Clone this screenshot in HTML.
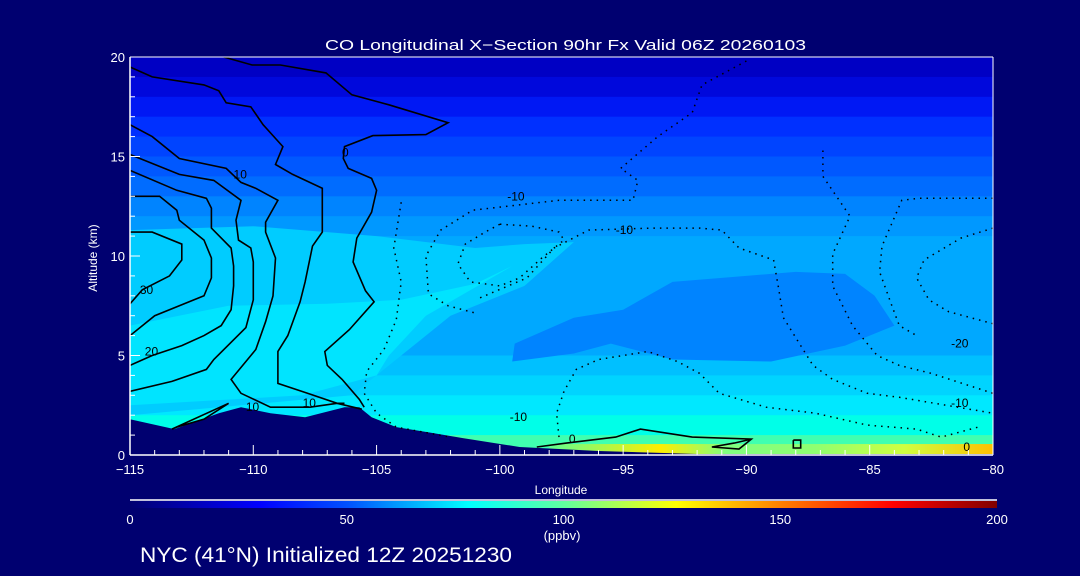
<!DOCTYPE html>
<html><head><meta charset="utf-8">
<style>
html,body{margin:0;padding:0;background:#000070;}
svg{display:block;font-family:"Liberation Sans",sans-serif;}
</style></head>
<body>
<svg id="chart" width="1080" height="576" viewBox="0 0 1080 576" xmlns="http://www.w3.org/2000/svg">
<defs>
<linearGradient id="cbar" x1="0" x2="1" y1="0" y2="0">
<stop offset="0" stop-color="#000070"/><stop offset="0.15" stop-color="#0000ff"/><stop offset="0.25" stop-color="#0050ff"/>
<stop offset="0.39" stop-color="#00ffff"/><stop offset="0.5" stop-color="#60ffa0"/><stop offset="0.63" stop-color="#ffff00"/>
<stop offset="0.75" stop-color="#ff8000"/><stop offset="0.88" stop-color="#ff0000"/><stop offset="1" stop-color="#800000"/>
</linearGradient>
<linearGradient id="ground" x1="0" x2="1" y1="0" y2="0">
<stop offset="0" stop-color="#60ff90"/><stop offset="0.25" stop-color="#ffee00"/><stop offset="0.4" stop-color="#80ff80"/>
<stop offset="0.6" stop-color="#90ff70"/><stop offset="0.8" stop-color="#d0ff40"/><stop offset="1" stop-color="#ffc000"/>
</linearGradient>
<clipPath id="plotclip"><rect x="130" y="57" width="863" height="398"/></clipPath>
</defs>
<rect x="0" y="0" width="1080" height="576" fill="#000070"/>
<g id="field" clip-path="url(#plotclip)"></g>
<g id="contours" clip-path="url(#plotclip)"></g>
<g id="axes"></g>
<text x="325" y="50" fill="#fff" font-size="15" textLength="481" lengthAdjust="spacingAndGlyphs">CO Longitudinal X−Section 90hr  Fx Valid 06Z 20260103</text>
<text x="561" y="494" fill="#fff" font-size="12" text-anchor="middle">Longitude</text>
<text x="97" y="258" fill="#fff" font-size="12" text-anchor="middle" transform="rotate(-90 97 258)">Altitude (km)</text>
<line x1="130" y1="500" x2="997" y2="500" stroke="#fff" stroke-width="1.5"/>
<rect x="130" y="501" width="867" height="7" fill="url(#cbar)"/>
<g id="cbticks"></g>
<text x="562" y="540" fill="#fff" font-size="13" text-anchor="middle">(ppbv)</text>
<text x="140" y="562" fill="#fff" font-size="21" textLength="372" lengthAdjust="spacingAndGlyphs">NYC (41°N) Initialized 12Z 20251230</text>
</svg>
<script>
const NS="http://www.w3.org/2000/svg";
const xTicks=[-115,-110,-105,-100,-95,-90,-85,-80];
const yTicks=[0,5,10,15,20];
const cbTicks=[0,50,100,150,200];
const bandEdges=[20,19,18,17,16,15,14,13,12,11,9,5,4,3,2,1];
const bandColors=["#0000c4","#0008dc","#0018f4","#0030ff","#0044ff","#0058ff","#006cff","#0084ff","#0098ff","#00a8ff","#00a8ff","#00c0ff","#00d4ff","#00e8ff","#00ffe8","#40ffb0"];
const leftCyan=[[-115,11.3],[-110,11.5],[-105,11],[-101,10.4],[-99,10.6],[-97,10.7],[-99,8.5],[-102,7],[-103,6],[-104,5],[-106,3],[-115,2]];
const leftLight=[[-115,6.5],[-111,7.5],[-107,7.6],[-104,7.8],[-101,8.6],[-99.5,9.5],[-103,7],[-104.5,5],[-105,4],[-108,3],[-115,2.5]];
const bluePatch=[[-99.5,4.7],[-99.4,5.6],[-97,6.9],[-95,7.3],[-93,8.7],[-91,8.9],[-88,9.2],[-86,9.1],[-84.8,8],[-84,6.5],[-86,5.5],[-89,4.7],[-93,4.8],[-95.5,5.6],[-97,5.1]];
const terrain=[[-115,1.8],[-113.2,1.3],[-111.4,2.1],[-110.5,2.4],[-109.3,2.1],[-107.9,1.9],[-106.3,2.4],[-105.7,2.4],[-105.2,1.9],[-104.2,1.4],[-102.7,1.1],[-101.5,0.85],[-99.2,0.4],[-96,0.2],[-92,0.05],[-80,0.05],[-80,-1],[-115,-1]];
const solidContours=[
[[-111.2,20],[-110.05,19.6],[-108.9,19.6],[-107.05,19.2],[-106,18.1],[-104.5,17.6],[-102.1,16.7],[-103,16.1],[-105.15,16.05],[-106.3,15.5],[-106.35,14.9],[-106.15,14.4],[-105.2,13.9],[-105,13.3],[-105.2,12.2],[-105.8,10.9],[-105.95,9.7],[-105.45,8.25],[-105.1,7.7],[-106.1,6.3],[-107.1,5.2],[-107,4.5],[-106.4,3.8],[-105.7,2.8],[-105.5,2.4]],
[[-115,19.5],[-114.1,19.0],[-112,18.6],[-111.4,18.3],[-111.1,17.7],[-110.1,17.5],[-109.6,16.6],[-108.8,15.5],[-109.1,14.6],[-108.4,14.1],[-107.2,13.4],[-107.2,12.4],[-107.2,11.2],[-107.6,10.5],[-107.9,8.7],[-108.1,7.7],[-108.6,6.0],[-109,5.2],[-109,3.6],[-107.8,3.1],[-106.6,2.6],[-105.6,2.3]],
[[-115,16.6],[-114.1,16.0],[-113,14.9],[-111.1,14.4],[-110.5,13.7],[-109.9,13.4],[-109,12.8],[-109.5,11.7],[-109.5,11.2],[-109.1,9.9],[-109.2,8.0],[-109.5,6.7],[-109.9,5.3],[-110.9,3.8],[-110.5,3.1],[-109.3,2.4],[-107.7,2.4],[-106.6,2.6],[-106.3,2.6]],
[[-115,15.1],[-113,14.1],[-111.6,13.8],[-110.5,12.8],[-110.7,11.8],[-110.6,10.8],[-110.1,10.4],[-110,9.7],[-110,7.8],[-110.3,6.4],[-111.6,4.8],[-111.9,4.3],[-113.3,3.7],[-115,3.2]],
[[-115,14.3],[-113.1,13.3],[-111.9,12.9],[-111.7,12.4],[-111.7,11.4],[-110.9,10.4],[-110.8,9.5],[-110.8,8.5],[-110.9,7.3],[-111.3,6.5],[-112,6.0],[-112.9,5.5],[-114.1,5.0],[-115,4.5]],
[[-115,13.0],[-113.8,13.0],[-113.1,12.3],[-113.0,11.8],[-112,10.8],[-111.7,9.9],[-111.7,8.9],[-112,8.0],[-114,7.0],[-115,6.0]],
[[-115,11.2],[-114.1,11.2],[-112.9,10.6],[-112.9,9.8],[-113.4,9.0],[-114.5,8.3],[-115,7.6]],
[[-113.3,1.3],[-111,2.6],[-112,1.8],[-113.1,1.4],[-113.3,1.3]],
[[-98.5,0.4],[-97.3,0.6],[-95.3,0.9],[-94.3,1.3],[-92.2,0.9],[-89.8,0.8],[-90.3,0.3],[-91.4,0.4],[-90.5,0.6],[-89.8,0.8]],
[[-88.1,0.75],[-87.8,0.75],[-87.8,0.35],[-88.1,0.35],[-88.1,0.75]]
];
const dottedContours=[
[[-90,19.8],[-91.8,18.6],[-92.2,17.2],[-93.6,16.0],[-95.1,14.4],[-94.4,13.8],[-94.6,12.8],[-97.6,12.8],[-101.1,12.3],[-102.4,11.3],[-103,10.0],[-102.9,8.1],[-102.1,7.5],[-100.9,7.1]],
[[-100,11.6],[-98.7,11.5],[-97.6,11.2],[-97.4,10.8],[-98.3,9.9],[-99.2,8.9],[-100,8.5],[-101.2,8.7],[-101.7,9.6],[-101.4,10.6],[-100.6,11.2],[-100,11.6]],
[[-104,12.7],[-104.3,10.4],[-104,8.7],[-104.2,6.8],[-104.7,5.3],[-105.4,4.2],[-105.5,3.1],[-105,2.1],[-104.2,1.4],[-102,0.9]],
[[-100.8,7.9],[-98.9,8.9],[-97.8,10.4],[-96.4,11.3],[-93.8,11.4],[-91.9,11.4],[-91,11.3],[-90.3,10.4],[-88.9,9.8],[-88.7,8.4],[-88.5,6.9],[-87.9,5.7],[-87.3,4.5],[-86.5,3.8],[-85.1,3.1],[-83.8,2.9],[-80,2.1]],
[[-86.9,15.3],[-86.9,14.0],[-85.8,12.0],[-86.5,10.1],[-86.5,8.5],[-85.7,6.5],[-84.7,5.0],[-83.8,4.5],[-82.5,4.1],[-80,3.1]],
[[-80,12.9],[-83,12.9],[-83.7,12.8],[-84.5,10.5],[-84.6,9.2],[-84.1,7.5],[-83.8,6.5],[-83.1,6.0]],
[[-80,11.4],[-81.3,10.9],[-82.8,9.8],[-83.1,8.9],[-82.6,7.8],[-81.8,7.2],[-80,6.6]],
[[-97.6,0.9],[-97.7,2.1],[-97.4,3.2],[-96.9,4.3],[-96,4.8],[-94,5.2],[-92.8,4.7],[-91.9,4.1],[-91.1,3.1],[-89.2,2.4],[-87.2,2.1],[-85.1,1.5],[-83.1,1.3],[-82.1,0.9],[-80.6,1.4]]
];
const contourLabels=[["10",-110.8,13.9],["0",-106.4,15],["30",-114.6,8.1],["20",-114.4,5.0],["10",-110.3,2.2],["10",-108,2.4],["-10",-99.7,12.8],["-10",-95.3,11.1],["-10",-99.6,1.7],["0",-97.2,0.6],["-20",-81.7,5.4],["-10",-81.7,2.4],["0",-81.2,0.2]];
const X=lon=>130+(lon+115)*(863/35);
const Y=km=>455-km*(398/20);
const CB=v=>130+v*(867/200);
const field=document.getElementById('field');
const cont=document.getElementById('contours');
const axes=document.getElementById('axes');
function pts(a){return a.map(p=>X(p[0]).toFixed(1)+","+Y(p[1]).toFixed(1)).join(" ");}
for(let i=0;i<bandEdges.length;i++){
 const top=bandEdges[i], bot=(i+1<bandEdges.length)?bandEdges[i+1]:0;
 const r=document.createElementNS(NS,'rect');
 r.setAttribute('x',130);r.setAttribute('width',863);
 r.setAttribute('y',Y(top));r.setAttribute('height',Y(bot)-Y(top)+1);
 r.setAttribute('fill',bandColors[i]);
 
 
 field.appendChild(r);
}
function poly(arr,fill,name,parent){
 const p=document.createElementNS(NS,'polygon');
 p.setAttribute('points',pts(arr));p.setAttribute('fill',fill);
 
 
 (parent||field).appendChild(p);return p;
}
poly(leftCyan,'#00ccff','left-cyan-region');
poly(leftLight,'#00e4ff','left-light-region');
poly(bluePatch,'#0084ff','low-concentration-patch');
const g=document.createElementNS(NS,'rect');
g.setAttribute('x',X(-98));g.setAttribute('width',X(-80)-X(-98));
g.setAttribute('y',Y(0.55));g.setAttribute('height',Y(0)-Y(0.55));
g.setAttribute('fill','url(#ground)');


field.appendChild(g);
poly(terrain,'#000070','terrain-mask');
solidContours.forEach(c=>{
 const l=document.createElementNS(NS,'polyline');
 l.setAttribute('points',pts(c));l.setAttribute('fill','none');l.setAttribute('stroke','#000');l.setAttribute('stroke-width','1.6');
 
 
 cont.appendChild(l);
});
dottedContours.forEach(c=>{
 const l=document.createElementNS(NS,'polyline');
 l.setAttribute('points',pts(c));l.setAttribute('fill','none');l.setAttribute('stroke','#000');l.setAttribute('stroke-width','1.5');l.setAttribute('stroke-dasharray','1.5 5');
 
 
 cont.appendChild(l);
});
contourLabels.forEach(c=>{
 const t=document.createElementNS(NS,'text');
 t.setAttribute('x',X(c[1]));t.setAttribute('y',Y(c[2]));t.setAttribute('font-size','12');t.setAttribute('fill','#000');
 t.textContent=c[0];
 
 
 cont.appendChild(t);
});
function line(x1,y1,x2,y2,name,w){
 const l=document.createElementNS(NS,'line');
 l.setAttribute('x1',x1);l.setAttribute('y1',y1);l.setAttribute('x2',x2);l.setAttribute('y2',y2);
 l.setAttribute('stroke','#fff');l.setAttribute('stroke-width',w||1);
 
 
 axes.appendChild(l);
}
line(130,57,993,57,'plot-top-border');
line(130,455,993,455,'x-axis-line',1.5);
line(130,57,130,455,'y-axis-line',1.5);
line(993,57,993,455,'plot-right-border');
for(let lon=-115;lon<=-80;lon++){
 const major=xTicks.includes(lon);
 line(X(lon),455,X(lon),major?445:450,'x-tick');
}
for(let km=0;km<=20;km++){
 const major=yTicks.includes(km);
 line(130,Y(km),major?140:135,Y(km),'y-tick');
}
xTicks.forEach(v=>{
 const t=document.createElementNS(NS,'text');
 t.setAttribute('x',X(v));t.setAttribute('y',474);t.setAttribute('font-size','13');t.setAttribute('fill','#fff');t.setAttribute('text-anchor','middle');
 t.textContent=(v<0?'−':'')+Math.abs(v);
 
 
 axes.appendChild(t);
});
yTicks.forEach(v=>{
 const t=document.createElementNS(NS,'text');
 t.setAttribute('x',125);t.setAttribute('y',Y(v)+5);t.setAttribute('font-size','13');t.setAttribute('fill','#fff');t.setAttribute('text-anchor','end');
 t.textContent=v;
 
 
 axes.appendChild(t);
});
const cbg=document.getElementById('cbticks');
cbTicks.forEach(v=>{
 const t=document.createElementNS(NS,'text');
 t.setAttribute('x',CB(v));t.setAttribute('y',524);t.setAttribute('font-size','13');t.setAttribute('fill','#fff');t.setAttribute('text-anchor','middle');
 t.textContent=v;
 
 
 cbg.appendChild(t);
});
</script>
</body></html>
